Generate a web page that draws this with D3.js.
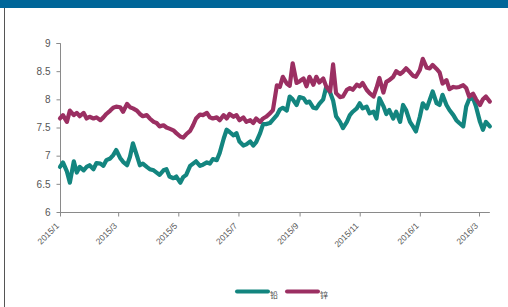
<!DOCTYPE html>
<html>
<head>
<meta charset="utf-8">
<script src="https://cdn.jsdelivr.net/npm/d3@7"></script>
<style>
  html, body { margin: 0; padding: 0; background: #fff; }
  svg { display: block; }
</style>
</head>
<body>
<svg id="chart" width="508" height="307"></svg>
<script>
// ---- data ----
const dates = [
"2015-01-01","2015-01-04","2015-01-08","2015-01-11","2015-01-15","2015-01-18","2015-01-21","2015-01-25","2015-01-28","2015-01-31",
"2015-02-04","2015-02-07","2015-02-11","2015-02-14","2015-02-17","2015-02-21","2015-02-24","2015-02-27","2015-03-03","2015-03-06",
"2015-03-10","2015-03-13","2015-03-16","2015-03-20","2015-03-23","2015-03-26","2015-03-30","2015-04-02","2015-04-06","2015-04-09",
"2015-04-12","2015-04-16","2015-04-19","2015-04-22","2015-04-26","2015-04-29","2015-05-03","2015-05-06","2015-05-09","2015-05-13",
"2015-05-16","2015-05-19","2015-05-23","2015-05-26","2015-05-30","2015-06-02","2015-06-05","2015-06-09","2015-06-12","2015-06-16",
"2015-06-19","2015-06-22","2015-06-26","2015-06-29","2015-07-02","2015-07-06","2015-07-09","2015-07-13","2015-07-16","2015-07-19",
"2015-07-23","2015-07-26","2015-07-29","2015-08-02","2015-08-05","2015-08-09","2015-08-12","2015-08-15","2015-08-19","2015-08-22",
"2015-08-25","2015-08-29","2015-09-01","2015-09-05","2015-09-08","2015-09-11","2015-09-15","2015-09-18","2015-09-21","2015-09-25",
"2015-09-28","2015-10-02","2015-10-05","2015-10-08","2015-10-12","2015-10-15","2015-10-19","2015-10-22","2015-10-25","2015-10-29",
"2015-11-01","2015-11-04","2015-11-08","2015-11-11","2015-11-15","2015-11-18","2015-11-21","2015-11-25","2015-11-28","2015-12-01",
"2015-12-05","2015-12-08","2015-12-12","2015-12-15","2015-12-18","2015-12-22","2015-12-25","2015-12-28","2016-01-01","2016-01-04",
"2016-01-08","2016-01-11","2016-01-14","2016-01-18","2016-01-21","2016-01-24","2016-01-28","2016-01-31","2016-02-04","2016-02-07",
"2016-02-10","2016-02-14","2016-02-17","2016-02-20","2016-02-24","2016-02-27","2016-03-02","2016-03-05","2016-03-08","2016-03-12"
];

const leadValues = [
6.80,6.88,6.72,6.52,6.90,6.70,6.80,6.74,6.80,6.83,
6.76,6.87,6.86,6.82,6.92,6.95,7.01,7.10,6.96,6.89,
6.83,6.98,7.22,7.00,6.83,6.86,6.80,6.76,6.74,6.70,
6.66,6.74,6.76,6.63,6.60,6.63,6.52,6.62,6.66,6.82,
6.86,6.90,6.82,6.84,6.88,6.86,6.94,6.92,7.05,7.30,
7.46,7.42,7.36,7.40,7.25,7.18,7.20,7.25,7.18,7.24,
7.40,7.56,7.56,7.58,7.64,7.72,7.82,7.85,7.80,8.05,
8.00,7.90,8.04,8.02,7.94,7.96,7.85,7.84,7.92,8.00,
8.22,8.12,7.98,7.70,7.60,7.49,7.60,7.72,7.78,7.84,
7.93,7.84,7.87,7.75,7.78,7.66,8.02,7.88,7.74,7.81,
7.66,7.78,7.60,7.90,7.81,7.60,7.52,7.43,7.69,7.93,
7.84,7.99,8.14,7.93,7.90,8.08,7.90,7.81,7.72,7.63,
7.58,7.52,7.87,8.00,8.02,7.87,7.60,7.46,7.60,7.52
];

const zincValues = [
7.66,7.72,7.60,7.80,7.72,7.76,7.70,7.76,7.66,7.69,
7.66,7.68,7.63,7.68,7.74,7.80,7.85,7.87,7.86,7.78,
7.92,7.86,7.84,7.80,7.74,7.70,7.72,7.66,7.60,7.58,
7.52,7.54,7.50,7.48,7.45,7.40,7.34,7.32,7.38,7.44,
7.54,7.66,7.73,7.72,7.76,7.68,7.66,7.68,7.63,7.72,
7.66,7.74,7.69,7.72,7.63,7.68,7.60,7.63,7.58,7.66,
7.60,7.66,7.69,7.75,7.81,8.25,8.22,8.40,8.28,8.24,
8.64,8.29,8.32,8.37,8.23,8.40,8.26,8.40,8.30,8.37,
8.23,8.14,8.62,8.11,8.04,8.05,8.17,8.20,8.17,8.26,
8.23,8.29,8.17,8.11,8.05,8.20,8.38,8.12,8.31,8.34,
8.40,8.50,8.45,8.49,8.55,8.48,8.42,8.40,8.52,8.72,
8.56,8.55,8.61,8.54,8.48,8.28,8.34,8.18,8.22,8.21,
8.22,8.25,8.20,8.05,8.10,8.00,7.90,8.00,8.05,7.96
];

const yTicks = [6, 6.5, 7, 7.5, 8, 8.5, 9];
const yTickLabels = ["6", "6.5", "7", "7.5", "8", "8.5", "9"];
const xTickDates = ["2015-01-01","2015-03-01","2015-05-01","2015-07-01","2015-09-01","2015-11-01","2016-01-01","2016-03-01"];
const xTickLabels = ["2015/1","2015/3","2015/5","2015/7","2015/9","2015/11","2016/1","2016/3"];
const seriesNames = ["铅", "锌"];
const seriesColors = ["#13857f", "#9b2f62"];

// ---- drawing ----
const parse = d3.timeParse("%Y-%m-%d");
const svg = d3.select("#chart");

// header band and frame
svg.append("rect").attr("x", 0).attr("y", 0).attr("width", 508).attr("height", 8).attr("fill", "#006699");
svg.append("line").attr("x1", 4.5).attr("x2", 4.5).attr("y1", 8).attr("y2", 307)
   .attr("stroke", "#555").attr("stroke-width", 1);

const x = d3.scaleTime()
  .domain([parse("2015-01-01"), parse("2016-03-01")])
  .range([60, 479]);
const y = d3.scaleLinear().domain([6, 9]).range([212, 43]);

const axisColor = "#8a8a8a";
const textColor = "#555";

// y axis
const yAxis = svg.append("g").attr("transform", "translate(60.5,0)")
  .call(d3.axisLeft(y).tickValues(yTicks).tickSize(4)
        .tickFormat((d, i) => yTickLabels[i]));
yAxis.select(".domain").attr("stroke", axisColor).attr("d", `M-4,${y(9)+0.5}H0V${y(6)+0.5}`);
yAxis.selectAll(".tick line").attr("stroke", axisColor);
yAxis.selectAll(".tick text").attr("fill", textColor)
  .style("font-family", "'Liberation Sans', Arial, sans-serif").style("font-size", "10px")
  .attr("x", -10);

// x axis
const xEnd = x(parse("2016-03-12"));
const xAxis = svg.append("g").attr("transform", "translate(0,212.5)")
  .call(d3.axisBottom(x).tickValues(xTickDates.map(parse)).tickSize(4)
        .tickFormat((d, i) => xTickLabels[i]));
xAxis.select(".domain").attr("stroke", axisColor).attr("d", `M60,0H${xEnd}`);
xAxis.selectAll(".tick line").attr("stroke", axisColor);
xAxis.selectAll(".tick text").attr("fill", textColor)
  .style("font-family", "'Liberation Sans', Arial, sans-serif").style("font-size", "8.5px")
  .attr("text-anchor", "end")
  .attr("dy", null).attr("y", null)
  .attr("transform", "translate(-1,14) rotate(-45)");

// lines
const line = d3.line()
  .x((d) => x(d.date))
  .y((d) => y(d.v));

const seriesValues = [leadValues, zincValues];
seriesValues.forEach((vals, si) => {
  const pts = dates.map((d, i) => ({ date: parse(d), v: vals[i] }));
  svg.append("path").datum(pts)
    .attr("fill", "none")
    .attr("stroke", seriesColors[si])
    .attr("stroke-width", 4.2)
    .attr("stroke-linejoin", "round")
    .attr("stroke-linecap", "round")
    .attr("d", line);
});

// legend
const legendX = [237, 287];
seriesNames.forEach((name, i) => {
  const g = svg.append("g");
  g.append("line").attr("x1", legendX[i]).attr("x2", legendX[i] + 31)
    .attr("y1", 291.5).attr("y2", 291.5)
    .attr("stroke", seriesColors[i]).attr("stroke-width", 4).attr("stroke-linecap", "round");
  g.append("text").attr("x", legendX[i] + 33).attr("y", 298)
    .attr("fill", "#444")
    .style("font-family", "'Noto Sans CJK SC', sans-serif").style("font-size", "8px")
    .text(name);
});
</script>
</body>
</html>
